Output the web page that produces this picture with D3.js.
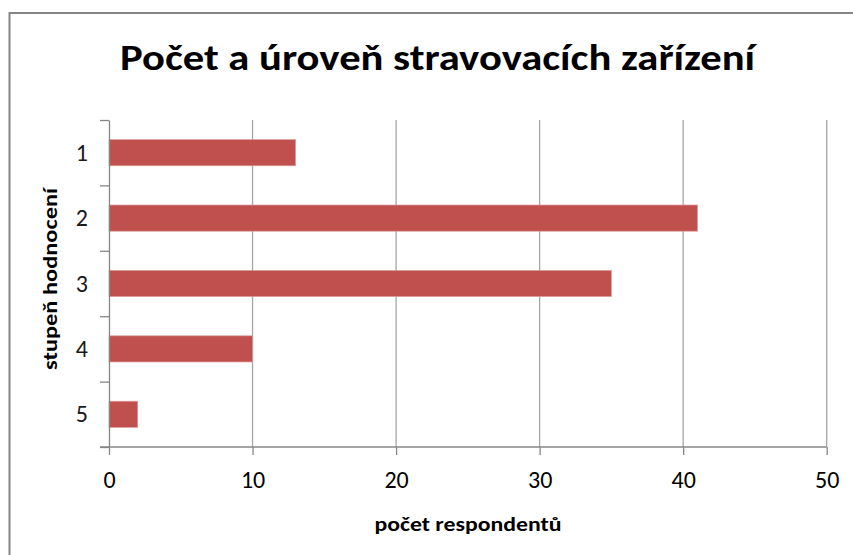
<!DOCTYPE html>
<html>
<head>
<meta charset="utf-8">
<script src="https://cdn.jsdelivr.net/npm/d3@7"></script>
<style>
  body { margin: 0; background: #fff; }
  text { font-family: Carlito, Calibri, "Open Sans", sans-serif; fill: #000; }
</style>
</head>
<body>
<div id="graf"></div>
<script>
// données
let stupne = ["1", "2", "3", "4", "5"];
let pocty = [13, 41, 35, 10, 2];
let ticksX = [0, 10, 20, 30, 40, 50];
let titre = "Počet a úroveň stravovacích zařízení";
let titreX = "počet respondentů";
let titreY = "stupeň hodnocení";

// canevas
let largeur = 853;
let hauteur = 555;
let zone = { gauche: 109, droite: 826.7, haut: 120, bas: 447 };

let svg = d3.select("#graf")
  .append("svg")
  .attr("width", largeur)
  .attr("height", hauteur);

svg.append("rect")
  .attr("width", "100%")
  .attr("height", "100%")
  .attr("fill", "#fff");

// cadre (coupé à droite et en bas)
svg.append("rect")
  .attr("x", 9.5).attr("y", 13)
  .attr("width", 900).attr("height", 600)
  .attr("fill", "none")
  .attr("stroke", "#868686")
  .attr("stroke-width", 2);

// echelles
let echelleX = d3.scaleLinear()
  .domain([0, 50])
  .range([zone.gauche, zone.droite]);

let echelleY = d3.scaleBand()
  .domain(stupne)
  .range([zone.haut, zone.bas])
  .paddingInner(0.6)
  .paddingOuter(0.3);

let bordsY = d3.scaleLinear()
  .domain([0, stupne.length])
  .range([zone.haut, zone.bas]);

// grille verticale
svg.append("g")
  .selectAll("line")
  .data(ticksX.slice(1))
  .enter()
  .append("line")
    .attr("x1", d => echelleX(d)).attr("x2", d => echelleX(d))
    .attr("y1", zone.haut).attr("y2", zone.bas)
    .attr("stroke", "#a6a6a6")
    .attr("stroke-width", 1.3);

// barres
svg.append("g")
  .selectAll("rect")
  .data(pocty)
  .enter()
  .append("rect")
    .attr("x", echelleX(0))
    .attr("y", (d, i) => echelleY(stupne[i]))
    .attr("width", d => echelleX(d) - echelleX(0))
    .attr("height", echelleY.bandwidth())
    .attr("fill", "#C0504D")
    .attr("stroke", "#dc9c9a")
    .attr("stroke-width", 0.7);

// axe X
let axeX = svg.append("g")
  .attr("transform", `translate(0,${zone.bas})`)
  .call(d3.axisBottom(echelleX).tickValues(ticksX).tickSize(8).tickSizeOuter(0).tickPadding(16));
axeX.select(".domain").remove();
axeX.append("line")
  .attr("x1", zone.gauche - 9).attr("x2", zone.droite)
  .attr("stroke", "#868686").attr("stroke-width", 1.3);
axeX.selectAll(".tick line").attr("stroke", "#868686").attr("stroke-width", 1.3);
axeX.selectAll(".tick text")
  .style("font-size", "24px")
  .attr("fill", "#1a1a1a");

// axe Y (graduations aux bords des catégories)
let axeY = svg.append("g")
  .attr("transform", `translate(${zone.gauche},0)`)
  .call(d3.axisLeft(bordsY).ticks(5).tickFormat("").tickSize(9).tickSizeOuter(0));
axeY.select(".domain")
  .attr("stroke", "#868686").attr("stroke-width", 1.3);
axeY.selectAll(".tick line").attr("stroke", "#868686").attr("stroke-width", 1.3);

// étiquettes des catégories
svg.append("g")
  .selectAll("text")
  .data(stupne)
  .enter()
  .append("text")
    .attr("x", 88)
    .attr("y", d => echelleY(d) + echelleY.bandwidth() / 2 + 8)
    .attr("text-anchor", "end")
    .style("font-size", "24px")
    .style("fill", "#1a1a1a")
    .text(d => d);

// titre
svg.append("text")
  .attr("x", 437.5).attr("y", 70)
  .attr("text-anchor", "middle")
  .attr("textLength", 635)
  .attr("lengthAdjust", "spacingAndGlyphs")
  .style("font-size", "37px")
  .style("font-weight", "bold")
  .text(titre);

// titres des axes
svg.append("text")
  .attr("x", 468).attr("y", 531)
  .attr("text-anchor", "middle")
  .attr("textLength", 187)
  .attr("lengthAdjust", "spacingAndGlyphs")
  .style("font-size", "21px")
  .style("font-weight", "bold")
  .text(titreX);

svg.append("text")
  .attr("transform", "translate(57,279) rotate(-90)")
  .attr("text-anchor", "middle")
  .attr("textLength", 182)
  .attr("lengthAdjust", "spacingAndGlyphs")
  .style("font-size", "21px")
  .style("font-weight", "bold")
  .text(titreY);
</script>
</body>
</html>
